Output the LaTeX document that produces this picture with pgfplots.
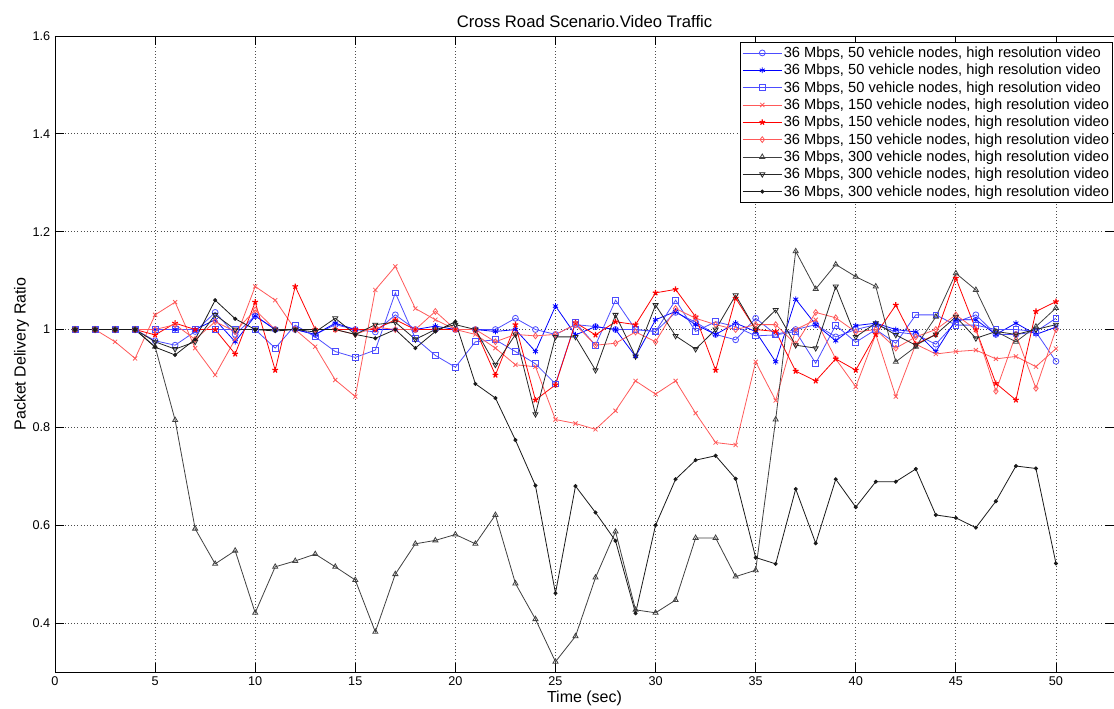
\documentclass[border=0pt]{standalone}
\usepackage{pgfplots}
\pgfplotsset{compat=1.18}
\usepackage{pgfplotstable}
\usepackage{fontspec}
\setmainfont{Liberation Sans}
\pgfplotstableread{
x bo bst bsq rx rst rd ku kv kf
1 1 1 1 1 1 1 1 1 1
2 1 1 1 1 1 1 1 1 1
3 1 1 1 0.975 1 1 1 1 1
4 1 1 1 0.941 1 1 1 1 1
5 0.977 1.0 1.0 1.03 0.989 1.0 0.965 0.975 0.964
6 0.968 1.0 1.0 1.056 1.013 1.01 0.815 0.96 0.948
7 0.996 1.0 1.0 0.962 1.0 0.98 0.593 0.975 0.98
8 1.035 1.02 1.0 0.907 1.0 1.016 0.521 1.03 1.06
9 0.99 0.975 1.0 0.98 0.95 0.996 0.548 1.0 1.022
10 1.028 1.028 1.0 1.088 1.056 1.04 0.421 1.0 1.0
11 1.0 1.0 0.962 1.06 0.917 1.0 0.515 1.0 0.997
12 1.0 1.0 1.009 1.0 1.088 1.0 0.527 1.0 1.0
13 0.99 0.99 0.985 0.965 1.0 1.0 0.541 0.995 1.0
14 1.01 1.013 0.955 0.897 1.0 1.0 0.515 1.023 1.0
15 1.0 1.0 0.943 0.863 1.0 0.99 0.488 0.99 0.99
16 0.995 1.0 0.958 1.081 1.0 1.005 0.382 1.01 0.982
17 1.03 1.0 1.075 1.129 1.02 1.0 0.5 1.015 1.0
18 1.0 1.0 0.982 1.043 1.0 1.0 0.562 0.98 0.962
19 1.0 1.007 0.947 1.02 1.0 1.037 0.569 1.0 0.996
20 1.0 1.0 0.923 1.0 1.0 1.0 0.581 1.01 1.016
21 1.0 1.0 0.975 0.99 1.0 1.0 0.562 1.0 0.889
22 1.0 0.996 0.979 0.962 0.907 0.975 0.621 0.928 0.86
23 1.023 1.0 0.955 0.928 1.01 0.99 0.481 0.99 0.774
24 1.0 0.955 0.93 0.924 0.856 0.987 0.408 0.827 0.681
25 0.99 1.048 0.889 0.816 0.887 0.99 0.321 0.985 0.461
26 1.01 0.989 1.014 0.808 1.014 1.01 0.373 0.985 0.68
27 1.006 1.006 0.968 0.796 0.989 0.968 0.493 0.917 0.626
28 1.0 1.0 1.06 0.834 1.016 0.972 0.587 1.03 0.568
29 1.0 0.945 1.0 0.895 1.01 0.995 0.427 0.945 0.42
30 0.996 1.02 0.996 0.868 1.075 0.975 0.421 1.05 0.6
31 1.035 1.037 1.06 0.895 1.082 1.043 0.447 0.987 0.694
32 1.015 1.01 0.996 0.829 1.026 1.023 0.574 0.96 0.733
33 0.99 0.99 1.016 0.769 0.917 1.01 0.574 1.0 0.742
34 0.979 1.013 1.006 0.764 1.064 1.0 0.495 1.07 0.695
35 1.023 0.996 0.987 0.934 1.0 1.01 0.508 1.0 0.534
36 0.99 0.934 0.989 0.855 0.996 1.01 0.816 1.04 0.521
37 1.0 1.062 0.996 1.0 0.915 0.97 1.16 0.968 0.674
38 1.01 1.01 0.931 1.02 0.895 1.035 1.083 0.962 0.563
39 0.985 0.977 1.009 0.94 0.94 1.024 1.133 1.088 0.694
40 1.0 1.008 0.974 0.883 0.917 0.995 1.108 0.985 0.637
41 1.01 1.013 1.0 0.99 0.99 1.0 1.088 1.013 0.689
42 0.995 1.0 0.972 0.863 1.05 0.962 0.934 0.989 0.689
43 0.99 0.995 1.03 0.97 0.97 0.985 0.965 0.968 0.715
44 0.97 0.955 1.03 0.95 0.99 1.0 1.026 0.99 0.621
45 1.015 1.02 1.009 0.955 1.105 1.03 1.115 1.026 0.615
46 1.03 1.02 1.009 0.958 1.0 1.0 1.081 0.982 0.595
47 0.99 0.99 1.0 0.94 0.89 0.874 0.996 0.996 0.649
48 0.99 1.013 1.0 0.945 0.856 0.99 0.975 0.99 0.721
49 0.995 0.99 0.996 0.924 1.037 0.88 1.006 1.0 0.716
50 0.935 1.005 1.023 0.961 1.057 1.0 1.044 1.01 0.522
}\datatable
\definecolor{lblue}{rgb}{0.3,0.3,1}
\definecolor{lred}{rgb}{1,0.35,0.35}
\begin{document}
\begin{tikzpicture}
\begin{axis}[
  scale only axis,
  width=794.25pt, height=477pt,
  xmin=0, xmax=52.9, ymin=0.3, ymax=1.6,
  xtick={0,5,...,50},
  ytick={0.4,0.6,...,1.6},
  yticklabels={0.4,0.6,0.8,1,1.2,1.4,1.6},
  tick align=inside,
  major tick length=6.5pt,
  tick style={black, line width=0.6pt},
  xtick pos=both, ytick pos=both,
  grid=major,
  grid style={dotted, black!70, line width=0.6pt},
  axis line style={line width=0.7pt},
  tick label style={font=\fontsize{9.5}{11}\selectfont},
  /pgf/number format/assume math mode=true,
  title={Cross Road Scenario.Video Traffic},
  title style={font=\fontsize{12.5}{14}\selectfont, yshift=-3pt},
  xlabel={Time (sec)},
  ylabel={Packet Delivery Ratio},
  label style={font=\fontsize{12}{14}\selectfont},
  xlabel style={yshift=3pt},
  ylabel style={yshift=-4pt},
  legend style={at={(1,1)}, anchor=north east, xshift=-1pt, yshift=-4.5pt,
    draw=black, fill=white, font=\fontsize{11}{13}\selectfont,
    row sep=0pt, inner sep=1.5pt, cells={anchor=west},
    nodes={inner sep=1pt, text height=9pt, text depth=2pt}},
  legend image code/.code={\draw[mark repeat=2,mark phase=2] plot coordinates {(0cm,0cm) (0.52cm,0cm) (1.04cm,0cm)};},
  every axis plot/.append style={line width=0.6pt, mark size=2.2pt},
]
\addplot[lblue, mark=o] table[x=x,y=bo]{\datatable};
\addlegendentry{36 Mbps, 50 vehicle nodes, high resolution video}
\addplot[blue, mark=asterisk] table[x=x,y=bst]{\datatable};
\addlegendentry{36 Mbps, 50 vehicle nodes, high resolution video}
\addplot[lblue, mark=square] table[x=x,y=bsq]{\datatable};
\addlegendentry{36 Mbps, 50 vehicle nodes, high resolution video}
\addplot[lred, mark=x] table[x=x,y=rx]{\datatable};
\addlegendentry{36 Mbps, 150 vehicle nodes, high resolution video}
\addplot[red, mark=star, mark options={line width=0.9pt}] table[x=x,y=rst]{\datatable};
\addlegendentry{36 Mpbs, 150 vehicle nodes, high resolution video}
\addplot[lred, mark=diamond] table[x=x,y=rd]{\datatable};
\addlegendentry{36 Mbps, 150 vehicle nodes, high resolution video}
\addplot[black!75, mark=triangle] table[x=x,y=ku]{\datatable};
\addlegendentry{36 Mbps, 300 vehicle nodes, high resolution video}
\addplot[black!85, mark=triangle, mark options={rotate=180}] table[x=x,y=kv]{\datatable};
\addlegendentry{36 Mbps, 300 vehicle nodes, high resolution video}
\addplot[black!90, mark=*, mark size=1.2pt] table[x=x,y=kf]{\datatable};
\addlegendentry{36 Mbps, 300 vehicle nodes, high resolution video}
\end{axis}
\pgfresetboundingbox
\path (-41.25pt,-27.75pt) rectangle (794.25pt,504pt);
\end{tikzpicture}
\end{document}
